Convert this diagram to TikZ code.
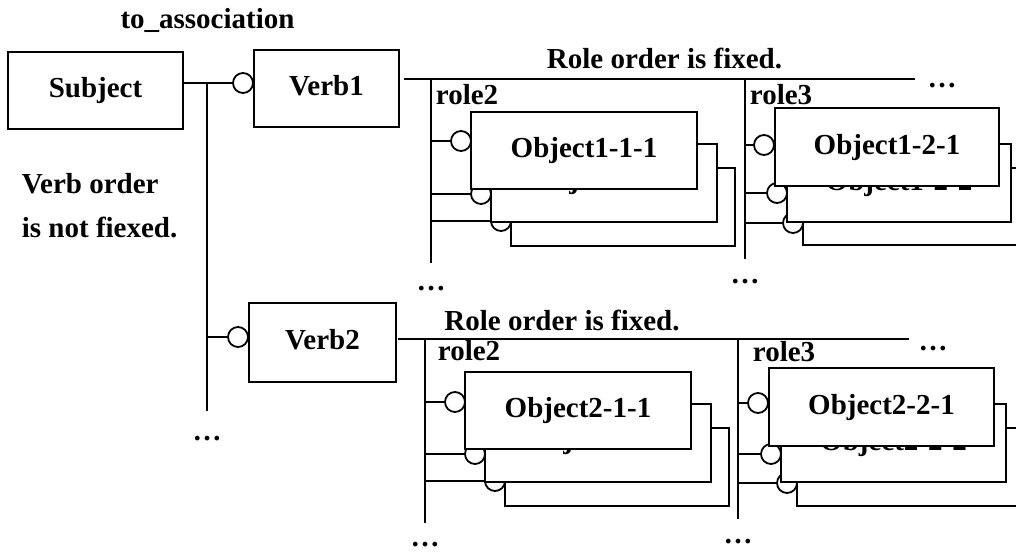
\documentclass[tikz,border=0pt]{standalone}
\usepackage{fontspec}
\setmainfont{Liberation Serif}
\begin{document}
\begin{tikzpicture}[x=1pt,y=-1pt,line width=1.8pt,
  every node/.style={font=\fontsize{29}{34}\selectfont\bfseries},
  box/.style={draw,fill=white,rectangle,inner sep=0pt,outer sep=0pt,anchor=north west,text height=20pt,text depth=6pt},
  hightext/.style={text height=16pt},
  port/.style={draw,fill=white,circle,inner sep=0pt,outer sep=0pt,minimum size=20pt},
  lbl/.style={inner sep=0pt,anchor=base},
  lblw/.style={inner sep=0pt,anchor=base west}]
\useasboundingbox (0,0) rectangle (1016,551);

% ---- subject / verbs ----
\node[lbl] (toassoc) at (207.5,29) {to\_association};
\node[box,minimum width=175pt,minimum height=77pt] (subj) at (8,52) {Subject};
\node[box,minimum width=145pt,minimum height=77pt] (verb1) at (254,50) {Verb1};
\node[box,minimum width=147pt,minimum height=79pt] (verb2) at (249,303) {Verb2};
\coordinate (j1) at (207,83);
\coordinate (j2) at (207,411);
\draw (j1) -- (j2);
\node[port] (pv1) at (243,83) {};
\draw (subj.east |- j1) -- (pv1);
\node[port] (pv2) at (238,337) {};
\draw (j1 |- pv2) -- (pv2);
\node[lblw] (vo1) at (21,193) {Verb order};
\node[lblw] (vo2) at (21,237) {is not fiexed.};
\node[lbl] (d0) at (207,440) {…};

% ---- row 1 frame ----
\coordinate (h1a) at (404,79);
\coordinate (h1b) at (915,79);
\draw (h1a) -- (h1b);
\coordinate (r11) at (431,79);
\coordinate (r11e) at (431,263);
\coordinate (r12) at (745,79);
\coordinate (r12e) at (745,259);
\draw (r11) -- (r11e);
\draw (r12) -- (r12e);
\node[lbl] (ro1) at (664.5,68) {Role order is fixed.};
\node[lblw] (rl11) at (435,104) {role2};
\node[lblw] (rl12) at (749,104) {role3};
\node[lbl] (d11) at (942,87) {…};
\node[lbl] (d12) at (431,290) {…};
\node[lbl] (d13) at (745,283) {…};

% ---- row 2 frame ----
\coordinate (h2a) at (398,339);
\coordinate (h2b) at (909,339);
\draw (h2a) -- (h2b);
\coordinate (r21) at (425,339);
\coordinate (r21e) at (425,523);
\coordinate (r22) at (738,339);
\coordinate (r22e) at (738,519);
\draw (r21) -- (r21e);
\draw (r22) -- (r22e);
\node[lbl] (ro2) at (562,330) {Role order is fixed.};
\node[lblw] (rl21) at (437,360) {role2};
\node[lblw] (rl22) at (752,361) {role3};
\node[lbl] (d21) at (933,350) {…};
\node[lbl] (d22) at (425,546) {…};
\node[lbl] (d23) at (738,543) {…};

% ---- row 1, role2 stack ----
\node[box,minimum width=224pt,minimum height=78pt] (o113) at (511,168) {};
\node[port] (p113) at (501,221) {};
\draw (r11 |- p113) -- (p113);
\node[box,hightext,minimum width=226pt,minimum height=78pt] (o112) at (491,144) {Object1-1-2};
\node[port] (p112) at (481,194) {};
\draw (r11 |- p112) -- (p112);
\node[box,minimum width=226pt,minimum height=77pt] (o111) at (471,112) {Object1-1-1};
\node[port] (p111) at (461,141) {};
\draw (r11 |- p111) -- (p111);

% ---- row 1, role3 stack ----
\node[box,minimum width=224pt,minimum height=77pt] (o123) at (803,168) {};
\node[port] (p123) at (793,223) {};
\draw (r12 |- p123) -- (p123);
\node[box,minimum width=224pt,minimum height=78pt] (o122) at (787,144) {Object1-2-2};
\node[port] (p122) at (777,193) {};
\draw (r12 |- p122) -- (p122);
\node[box,minimum width=224pt,minimum height=78pt] (o121) at (775,108) {Object1-2-1};
\node[port] (p121) at (764,145) {};
\draw (r12 |- p121) -- (p121);

% ---- row 2, role2 stack ----
\node[box,minimum width=224pt,minimum height=78pt] (o213) at (505,428) {};
\node[port] (p213) at (495,481) {};
\draw (r21 |- p213) -- (p213);
\node[box,hightext,minimum width=226pt,minimum height=78pt] (o212) at (485,404) {Object2-1-2};
\node[port] (p212) at (475,454) {};
\draw (r21 |- p212) -- (p212);
\node[box,minimum width=226pt,minimum height=77pt] (o211) at (465,372) {Object2-1-1};
\node[port] (p211) at (455,402) {};
\draw (r21 |- p211) -- (p211);

% ---- row 2, role3 stack ----
\node[box,minimum width=224pt,minimum height=78pt] (o223) at (797,428) {};
\node[port] (p223) at (787,483) {};
\draw (r22 |- p223) -- (p223);
\node[box,minimum width=225pt,minimum height=78pt] (o222) at (781,404) {Object2-2-2};
\node[port] (p222) at (771,454) {};
\draw (r22 |- p222) -- (p222);
\node[box,minimum width=225pt,minimum height=78pt] (o221) at (769,368) {Object2-2-1};
\node[port] (p221) at (758,403) {};
\draw (r22 |- p221) -- (p221);
\end{tikzpicture}
\end{document}
